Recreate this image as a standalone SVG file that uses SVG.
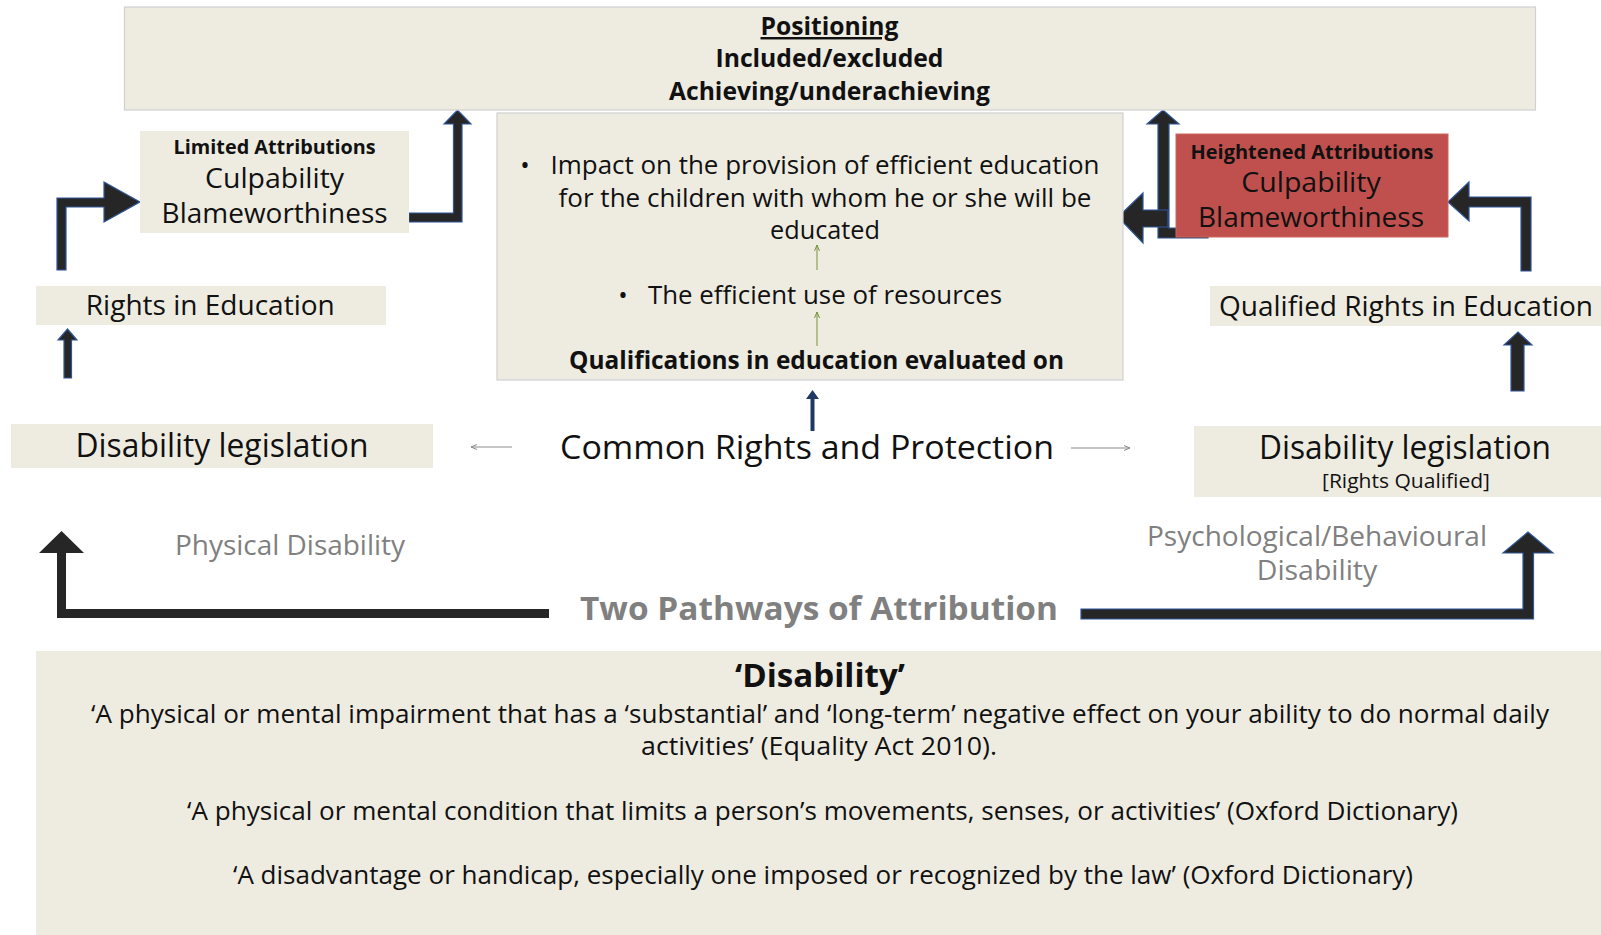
<svg xmlns="http://www.w3.org/2000/svg" width="1601" height="935" viewBox="0 0 1601 935">
<defs>
<style>
.bx{fill:#EEECE1}
.bxs{fill:#EEECE1;stroke:#D0D0D0;stroke-width:1.2}
.t{font-family:"Open Sans",Lato,"Liberation Sans",sans-serif;fill:#111;text-anchor:middle}
.b{font-weight:bold}
.g{fill:#808080}
.ar{fill:#262626;stroke:#2F5597;stroke-width:1.2}
.ap{fill:#262626}
.thin{stroke:#8c8c8c;stroke-width:1.1;fill:none}
.grn{stroke:#77933C;stroke-width:1;fill:none}
</style>
<marker id="mg" markerWidth="8" markerHeight="8" refX="6" refY="4" orient="auto" markerUnits="userSpaceOnUse"><path d="M0,1.5 L6,4 L0,6.5" fill="none" stroke="#8c8c8c" stroke-width="1"/></marker>
<marker id="mgr" markerWidth="8" markerHeight="8" refX="6" refY="4" orient="auto" markerUnits="userSpaceOnUse"><path d="M0,1.5 L6,4 L0,6.5" fill="none" stroke="#77933C" stroke-width="1"/></marker>
</defs>

<g id="connectors">
<path class="ar" d="M57,270 L57,198 L104,198 L104,182 L140,202 L104,222 L104,207 L66,207 L66,270 Z"/>
<path class="ar" d="M409,213 L453.5,213 L453.5,124 L444,124 L457.5,110 L471,124 L462,124 L462,222 L409,222 Z"/>
<path class="ar" d="M1521,271 L1521,207 L1469,207 L1469,221 L1448,202 L1469,182 L1469,197 L1531,197 L1531,271 Z"/>
<path class="ar" d="M1208,228 L1169,228 L1169,124 L1179,124 L1163,110 L1147,124 L1158,124 L1158,238 L1208,238 Z"/>
<path class="ar" d="M1168,210 L1143,210 L1143,193 L1118,217 L1143,243 L1143,227 L1168,227 Z"/>
<path class="ar" d="M64,378 L64,340 L58,340 L67.5,329 L77,340 L71.5,340 L71.5,378 Z"/>
<path class="ar" d="M1511,391 L1511,345 L1504,345 L1518,332 L1532,345 L1524,345 L1524,391 Z"/>
<path fill="#1F3864" d="M810.5,431 L810.5,399 L806,399 L812.5,390 L819,399 L814.5,399 L814.5,431 Z"/>
<path class="ap" d="M549,609 L66,609 L66,553 L84,553 L61.5,531 L39,553 L57,553 L57,618 L549,618 Z"/>
<path class="ar" d="M1081,609 L1523,609 L1523,553 L1503,553 L1528,532 L1553,553 L1533.5,553 L1533.5,619 L1081,619 Z"/>
<line class="thin" x1="512" y1="447" x2="471" y2="447" marker-end="url(#mg)"/>
<line class="thin" x1="1071" y1="448" x2="1130" y2="448" marker-end="url(#mg)"/>
</g>

<g id="positioning">
<rect class="bxs" x="124.5" y="7" width="1411" height="103"/>
<text class="t b" x="829.5" y="35" font-size="24.5" text-decoration="underline" textLength="138" lengthAdjust="spacingAndGlyphs">Positioning</text>
<text class="t b" x="829.5" y="67" font-size="24.5" textLength="228" lengthAdjust="spacingAndGlyphs">Included/excluded</text>
<text class="t b" x="829.5" y="100" font-size="24.5" textLength="321" lengthAdjust="spacingAndGlyphs">Achieving/underachieving</text>
</g>

<g id="limited">
<rect class="bx" x="140" y="131" width="269" height="102"/>
<text class="t b" x="274.6" y="154" font-size="19.5" textLength="202" lengthAdjust="spacingAndGlyphs">Limited Attributions</text>
<text class="t" x="274.6" y="188" font-size="28" textLength="139" lengthAdjust="spacingAndGlyphs">Culpability</text>
<text class="t" x="274.6" y="223" font-size="28" textLength="226" lengthAdjust="spacingAndGlyphs">Blameworthiness</text>
</g>

<g id="rights">
<rect class="bx" x="36" y="286" width="350" height="39"/>
<text class="t" x="210.3" y="315" font-size="27.5" textLength="249" lengthAdjust="spacingAndGlyphs">Rights in Education</text>
</g>

<g id="qualifications">
<rect class="bxs" x="497" y="113" width="626" height="267"/>
<text class="t" x="525" y="174" font-size="25">•</text>
<text class="t" x="825" y="174" font-size="25.5" textLength="549" lengthAdjust="spacingAndGlyphs">Impact on the provision of efficient education</text>
<text class="t" x="825" y="207" font-size="25.5" textLength="533" lengthAdjust="spacingAndGlyphs">for the children with whom he or she will be</text>
<text class="t" x="825" y="239" font-size="25.5" textLength="110" lengthAdjust="spacingAndGlyphs">educated</text>
<line class="grn" x1="817" y1="270" x2="817" y2="245" marker-end="url(#mgr)"/>
<text class="t" x="623" y="304" font-size="25">•</text>
<text class="t" x="825" y="304" font-size="25.5" textLength="354" lengthAdjust="spacingAndGlyphs">The efficient use of resources</text>
<line class="grn" x1="817" y1="346" x2="817" y2="312" marker-end="url(#mgr)"/>
<text class="t b" x="816.5" y="369" font-size="25" textLength="495" lengthAdjust="spacingAndGlyphs">Qualifications in education evaluated on</text>
</g>

<g id="heightened">
<rect fill="#C0504D" stroke="#D06560" stroke-width="1" x="1176" y="134" width="272" height="103"/>
<text class="t b" x="1312" y="159" font-size="19.5" textLength="243" lengthAdjust="spacingAndGlyphs">Heightened Attributions</text>
<text class="t" x="1311" y="192" font-size="28" textLength="139.5" lengthAdjust="spacingAndGlyphs">Culpability</text>
<text class="t" x="1311" y="227" font-size="28" textLength="226" lengthAdjust="spacingAndGlyphs">Blameworthiness</text>
</g>

<g id="qualified-rights">
<rect class="bx" x="1210" y="286" width="391" height="40"/>
<text class="t" x="1406" y="316" font-size="27.5" textLength="374" lengthAdjust="spacingAndGlyphs">Qualified Rights in Education</text>
</g>

<g id="common">
<text class="t" x="807" y="459" font-size="33.5" textLength="494" lengthAdjust="spacingAndGlyphs">Common Rights and Protection</text>
</g>

<g id="legislation-left">
<rect class="bx" x="11" y="424" width="422" height="44"/>
<text class="t" x="222" y="457" font-size="32" textLength="293" lengthAdjust="spacingAndGlyphs">Disability legislation</text>
</g>

<g id="legislation-right">
<rect class="bx" x="1194" y="426" width="407" height="71"/>
<text class="t" x="1405" y="459" font-size="32" textLength="292" lengthAdjust="spacingAndGlyphs">Disability legislation</text>
<text class="t" x="1406" y="488" font-size="20" textLength="168" lengthAdjust="spacingAndGlyphs">[Rights Qualified]</text>
</g>

<g id="physical">
<text class="t g" x="290" y="555" font-size="27" textLength="230" lengthAdjust="spacingAndGlyphs">Physical Disability</text>
</g>

<g id="psychological">
<text class="t g" x="1317" y="546" font-size="27" textLength="340" lengthAdjust="spacingAndGlyphs">Psychological/Behavioural</text>
<text class="t g" x="1317" y="580" font-size="27" textLength="120.5" lengthAdjust="spacingAndGlyphs">Disability</text>
</g>

<g id="pathways">
<text class="t b g" x="819" y="620" font-size="33" textLength="478" lengthAdjust="spacingAndGlyphs">Two Pathways of Attribution</text>
</g>

<g id="definition">
<rect class="bx" x="36" y="651" width="1565" height="284"/>
<text class="t b" x="820" y="687" font-size="32" textLength="170" lengthAdjust="spacingAndGlyphs">‘Disability’</text>
<text class="t" x="820" y="723" font-size="25" textLength="1458" lengthAdjust="spacingAndGlyphs">‘A physical or mental impairment that has a ‘substantial’ and ‘long-term’ negative effect on your ability to do normal daily</text>
<text class="t" x="819" y="755" font-size="25" textLength="356" lengthAdjust="spacingAndGlyphs">activities’ (Equality Act 2010).</text>
<text class="t" x="822.5" y="820" font-size="25" textLength="1271" lengthAdjust="spacingAndGlyphs">‘A physical or mental condition that limits a person’s movements, senses, or activities’ (Oxford Dictionary)</text>
<text class="t" x="823" y="884" font-size="25" textLength="1180" lengthAdjust="spacingAndGlyphs">‘A disadvantage or handicap, especially one imposed or recognized by the law’ (Oxford Dictionary)</text>
</g>
</svg>
